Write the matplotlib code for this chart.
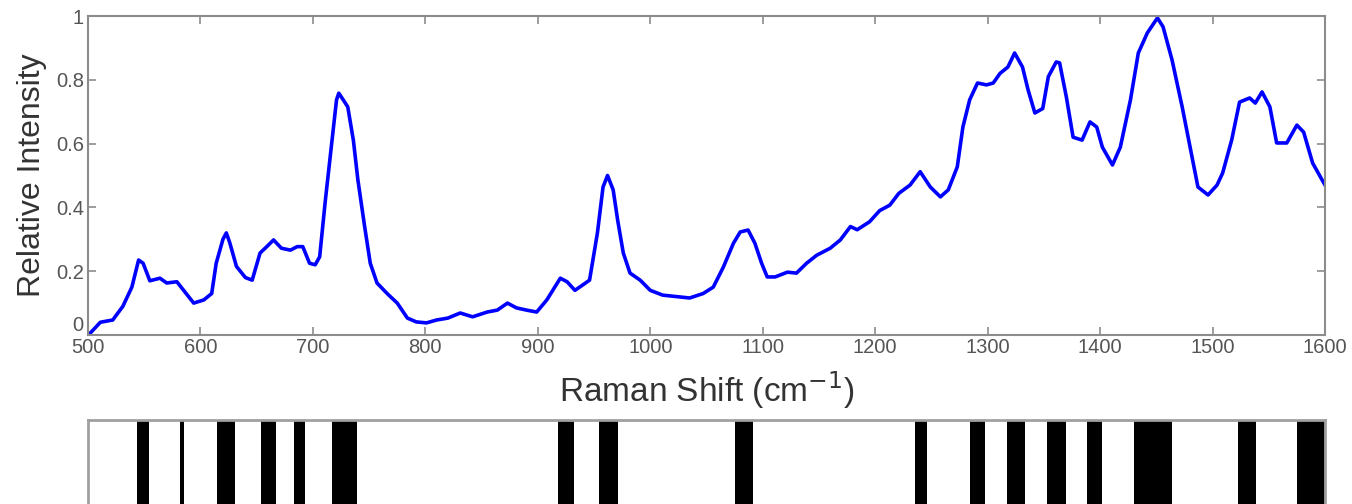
import matplotlib
matplotlib.use("Agg")
import matplotlib.pyplot as plt

plt.rcParams['font.family'] = ['Liberation Sans', 'DejaVu Sans']

# Raman spectrum (cm^-1, relative intensity)
shift = [502, 511, 522, 531, 539, 545, 549, 555, 564, 570, 579, 585, 594, 603, 610,
         614, 620, 623, 626, 632, 640, 646, 653, 659, 665, 672, 680, 686, 691, 697,
         702, 706, 711, 717, 721, 723, 727, 731, 736, 740, 746, 751, 757, 766, 775,
         784, 792, 801, 810, 820, 831, 842, 855, 864, 873, 881, 890, 899, 908, 920,
         926, 933, 940, 946, 953, 958, 962, 967, 971, 976, 982, 991, 1000, 1011, 1024,
         1035, 1047, 1056, 1065, 1074, 1080, 1087, 1093, 1099, 1104, 1111, 1122, 1130,
         1139, 1148, 1160, 1169, 1178, 1184, 1195, 1204, 1213, 1221, 1231, 1240, 1249,
         1258, 1265, 1273, 1278, 1284, 1291, 1299, 1305, 1311, 1318, 1324, 1331, 1336,
         1342, 1349, 1354, 1361, 1364, 1370, 1376, 1384, 1391, 1397, 1402, 1411, 1418,
         1427, 1434, 1442, 1451, 1456, 1464, 1473, 1480, 1487, 1496, 1504, 1509, 1517,
         1524, 1533, 1538, 1544, 1551, 1557, 1566, 1575, 1581, 1589, 1600]
intensity = [0.006, 0.04, 0.047, 0.09, 0.15, 0.235, 0.225, 0.17, 0.178, 0.163, 0.167,
             0.14, 0.10, 0.11, 0.13, 0.225, 0.30, 0.32, 0.29, 0.215, 0.18, 0.172, 0.257,
             0.277, 0.298, 0.272, 0.266, 0.277, 0.277, 0.225, 0.22, 0.245, 0.42, 0.61,
             0.737, 0.758, 0.737, 0.715, 0.61, 0.486, 0.34, 0.225, 0.163, 0.13, 0.10,
             0.053, 0.041, 0.038, 0.047, 0.053, 0.069, 0.057, 0.072, 0.078, 0.10, 0.085,
             0.078, 0.072, 0.11, 0.178, 0.167, 0.14, 0.157, 0.172, 0.32, 0.464, 0.50,
             0.455, 0.36, 0.257, 0.194, 0.172, 0.14, 0.125, 0.12, 0.116, 0.13, 0.15,
             0.213, 0.288, 0.323, 0.329, 0.288, 0.225, 0.182, 0.182, 0.197, 0.194, 0.225,
             0.25, 0.272, 0.298, 0.34, 0.33, 0.355, 0.39, 0.407, 0.444, 0.47, 0.512,
             0.464, 0.433, 0.455, 0.527, 0.652, 0.737, 0.79, 0.784, 0.79, 0.82, 0.84,
             0.884, 0.84, 0.768, 0.696, 0.71, 0.81, 0.856, 0.853, 0.746, 0.62, 0.611,
             0.668, 0.652, 0.589, 0.533, 0.589, 0.737, 0.884, 0.947, 0.994, 0.966, 0.862,
             0.715, 0.589, 0.464, 0.439, 0.47, 0.508, 0.611, 0.73, 0.743, 0.727, 0.762,
             0.715, 0.602, 0.602, 0.658, 0.636, 0.539, 0.47]

# selected bands shown in the lower strip
band_start = [544, 582, 615, 654, 683, 717, 918, 954, 1075, 1235, 1284, 1317, 1353,
              1388, 1430, 1523, 1575]
band_end = [554, 585, 631, 667, 693, 739, 932, 971, 1091, 1246, 1298, 1333, 1370,
            1402, 1464, 1539, 1600]

xticks = [500, 600, 700, 800, 900, 1000, 1100, 1200, 1300, 1400, 1500, 1600]
yticks = [0, 0.2, 0.4, 0.6, 0.8, 1]
ytick_labels = ['0', '0.2', '0.4', '0.6', '0.8', '1']

fig = plt.figure(figsize=(13.52, 5.04), dpi=100)
frame = '#8c8c8c'

ax = fig.add_axes([88 / 1352, 169 / 504, 1237 / 1352, 319 / 504])
ax.plot(shift, intensity, color='#0000ff', linewidth=2.6)
ax.set_xlim(500, 1600)
ax.set_ylim(0, 1)
ax.set_xticks(xticks)
ax.set_yticks(yticks)
ax.set_yticklabels(ytick_labels)
ax.tick_params(direction='in', top=True, right=True, length=6, width=1.2,
               color=frame, labelcolor='#555555')
ax.tick_params(axis='x', labelsize=14.5, pad=2)
ax.tick_params(axis='y', labelsize=14.5, pad=3)
# lift the "0" a touch so it doesn't sit on top of "500"
ax.get_yticklabels()[0].set_va('bottom')
for s in ax.spines.values():
    s.set_color(frame)
    s.set_linewidth(1.5)
ax.set_xlabel('Raman Shift (cm$^{-1}$)', fontsize=24, color='#333333', labelpad=9)
ax.set_ylabel('Relative Intensity', fontsize=23, color='#333333', labelpad=6)

# band strip below
bx = fig.add_axes([88 / 1352, -30 / 504, 1237 / 1352, 114 / 504])
for a, b in zip(band_start, band_end):
    bx.axvspan(a, b, color='black', linewidth=0)
bx.set_xlim(500, 1600)
bx.set_ylim(0, 1)
bx.set_xticks([])
bx.set_yticks([])
for s in bx.spines.values():
    s.set_color('#a0a0a0')
    s.set_linewidth(2)

fig.savefig('out.png', dpi=100)
